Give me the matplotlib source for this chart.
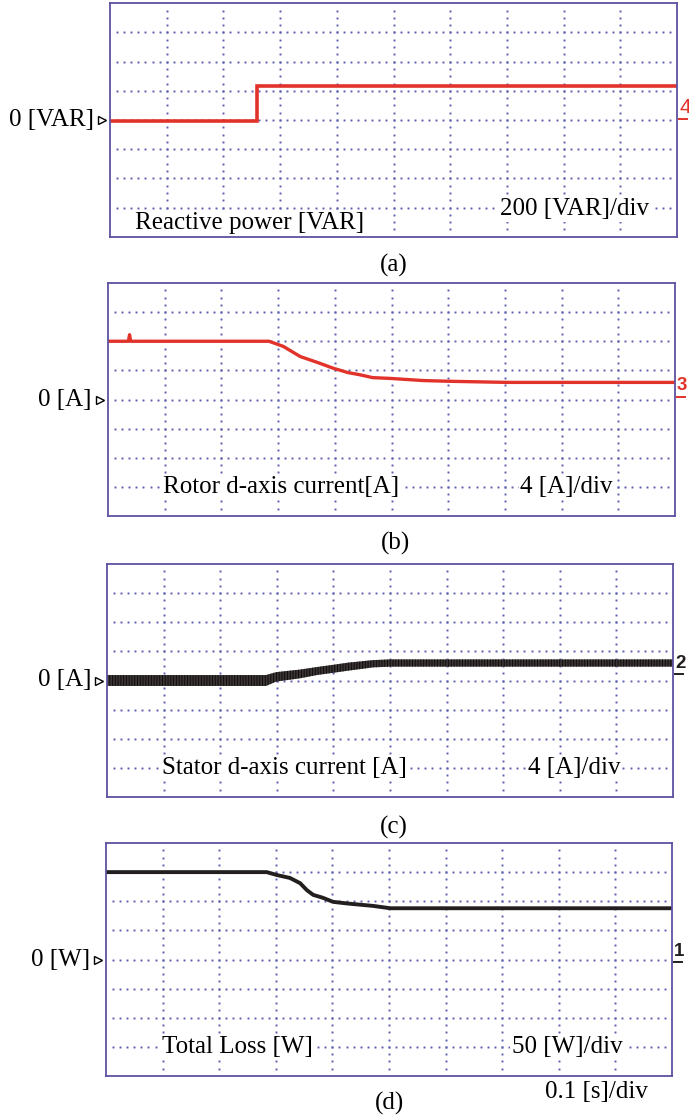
import matplotlib
matplotlib.use("Agg")
import matplotlib.pyplot as plt
import matplotlib.transforms as mtransforms
import numpy as np

# ---------------------------------------------------------------- data
# Scope time base: 10 divisions of 0.1 s
SEC_PER_DIV = 0.1
N_XDIV, N_YDIV = 10, 8

# (a) reactive power [VAR]
t_q = [0.0, 0.26, 0.26, 1.0]
q_var = [-10, -10, 230, 230]

# (b) rotor d-axis current [A]
t_ird = [0.0, 0.036, 0.038, 0.040, 0.284, 0.309, 0.339, 0.369, 0.397,
         0.423, 0.444, 0.467, 0.497, 0.556, 0.603, 0.704, 1.0]
i_rd = [8.0, 8.0, 8.9, 8.0, 8.0, 7.3, 5.9, 5.1, 4.3,
        3.7, 3.4, 3.0, 2.9, 2.6, 2.5, 2.35, 2.35]

# (c) stator d-axis current [A] with its switching ripple (half band)
t_isd = [0.0, 0.281, 0.299, 0.341, 0.371, 0.399, 0.426, 0.470, 0.500, 1.0]
i_sd = [0.0, 0.0, 0.5, 0.9, 1.3, 1.6, 1.9, 2.3, 2.4, 2.4]
i_sd_ripple = [0.75, 0.75, 0.65, 0.6, 0.55, 0.55, 0.55, 0.5, 0.5, 0.5]

# (d) total loss [W]
t_loss = [0.0, 0.284, 0.302, 0.325, 0.343, 0.355, 0.366, 0.383, 0.401,
          0.428, 0.472, 0.502, 1.0]
p_loss = [150, 150, 145, 140, 131, 119, 111, 106, 99, 96, 92, 88, 88]

# per-division scale factors and labels
scales = [200, 4, 4, 50]
zero_labels = ["0 [VAR]", "0 [A]", "0 [A]", "0 [W]"]
signal_names = ["Reactive power [VAR]", "Rotor d-axis current[A]",
                "Stator d-axis current [A]", "Total Loss [W]"]
scale_labels = ["200 [VAR]/div", "4 [A]/div", "4 [A]/div", "50 [W]/div"]
channels = ["4", "3", "2", "1"]
captions = ["(a)", "(b)", "(c)", "(d)"]

# ---------------------------------------------------------------- figure
W, H = 689, 1117
DPI = 100
plt.rcParams['font.family'] = ['Liberation Serif', 'DejaVu Serif']
plt.rcParams['hatch.linewidth'] = 0.7
fig = plt.figure(figsize=(W / DPI, H / DPI), dpi=DPI)
fig.patch.set_facecolor('white')

RED = '#e2332b'
BLACK = '#231f1f'
FRAME = '#5e52a0'
DOT = '#5e5eae'
FS = 18

# screen boxes (left, top, right, bottom) in pixels
boxes = [(110, 3.3, 677, 236.7),
         (108, 283, 675, 516),
         (107, 564, 673, 797),
         (106, 843, 672, 1076)]
trace_colors = [RED, RED, BLACK, BLACK]
label_y = [0.06, 0.124, 0.124, 0.125]
scale_y = [0.118, 0.124, 0.124, 0.125]
name_x = [0.044, 0.097, 0.097, 0.099]
scale_x = [0.688, 0.727, 0.744, 0.717]
marker_offset_px = [1, 3, 7, -2]
caption_pos = [(394, 265), (396, 543), (394, 827), (390, 1103)]


def add_screen(box):
    l, t, r, b = box
    return fig.add_axes([l / W, 1 - b / H, (r - l) / W, (b - t) / H])


def edge_transform(ax, dx, dy=0):
    """x in axes fraction, y in data units, shifted by (dx, dy) pixels."""
    base = mtransforms.blended_transform_factory(ax.transAxes, ax.transData)
    return base + mtransforms.ScaledTranslation(dx / DPI, dy / DPI, fig.dpi_scale_trans)


axes = []
for i, box in enumerate(boxes):
    ax = add_screen(box)
    axes.append(ax)
    wpx = box[2] - box[0]
    s = scales[i]
    ax.set_xlim(0, N_XDIV * SEC_PER_DIV)
    ax.set_ylim(-N_YDIV / 2 * s, N_YDIV / 2 * s)
    ax.set_xticks([])
    ax.set_yticks([])
    for sp in ax.spines.values():
        sp.set_color(FRAME)
        sp.set_linewidth(1.3)

    # dotted graticule
    hx = np.arange(1, N_XDIV * 8) / (N_XDIV * 8)
    for k in range(1, N_YDIV):
        ax.plot(hx, np.full_like(hx, k / N_YDIV), ls='none', marker='s',
                ms=1.4, mew=0, color=DOT, transform=ax.transAxes, zorder=1)
    vy = np.arange(1, N_YDIV * 4) / (N_YDIV * 4)
    for k in range(1, N_XDIV):
        ax.plot(np.full_like(vy, k / N_XDIV), vy, ls='none', marker='s',
                ms=1.4, mew=0, color=DOT, transform=ax.transAxes, zorder=1)

    # ground reference marker on the left
    ax.text(0, 0, zero_labels[i], transform=edge_transform(ax, -16), ha='right',
            va='center', fontsize=FS, color='black')
    ax.plot([0], [0], marker='>', ms=6.2, mfc='white', mec='black', mew=1.0,
            transform=edge_transform(ax, -8), clip_on=False)

    # channel number with its underline on the right
    col = trace_colors[i]
    off = marker_offset_px[i]
    if i == 0:
        ch_family = ['Liberation Sans Narrow', 'Liberation Sans', 'DejaVu Sans']
        ch_size, ch_weight = 15, 'normal'
    else:
        ch_family = ['Liberation Sans', 'DejaVu Sans']
        ch_size, ch_weight = 13.5, 'bold'
    ax.text(1, 0, channels[i], transform=edge_transform(ax, 2, off + 2),
            ha='left', va='bottom', fontsize=ch_size, fontweight=ch_weight,
            family=ch_family, color=col)
    ax.plot([1 + 2 / wpx, 1 + 10 / wpx], [0, 0], color=col, lw=1.4,
            transform=edge_transform(ax, 0, off), clip_on=False)

    # on-screen annotations
    ax.text(name_x[i], label_y[i], signal_names[i], transform=ax.transAxes,
            ha='left', va='center', fontsize=FS, zorder=3,
            bbox=dict(facecolor='white', edgecolor='none', pad=1.0))
    ax.text(scale_x[i], scale_y[i], scale_labels[i], transform=ax.transAxes,
            ha='left', va='center', fontsize=FS, zorder=3,
            bbox=dict(facecolor='white', edgecolor='none', pad=1.0))

    fig.text(caption_pos[i][0] / W, 1 - caption_pos[i][1] / H, captions[i],
             ha='center', va='center', fontsize=FS)

# traces
axes[0].plot(t_q, q_var, color=RED, lw=2.6, solid_joinstyle='miter', zorder=2)
axes[1].plot(t_ird, i_rd, color=RED, lw=2.4, zorder=2)
lo = np.array(i_sd) - np.array(i_sd_ripple)
hi = np.array(i_sd) + np.array(i_sd_ripple)
axes[2].fill_between(t_isd, lo, hi, facecolor='#3a3434', edgecolor='#120e0e',
                     hatch='||||||', lw=0, zorder=2)
axes[3].plot(t_loss, p_loss, color=BLACK, lw=2.8, zorder=2)

# time base annotation
fig.text(545 / W, 1 - 1092 / H, "0.1 [s]/div", ha='left', va='center',
         fontsize=FS)

fig.savefig("out.png", dpi=DPI)
